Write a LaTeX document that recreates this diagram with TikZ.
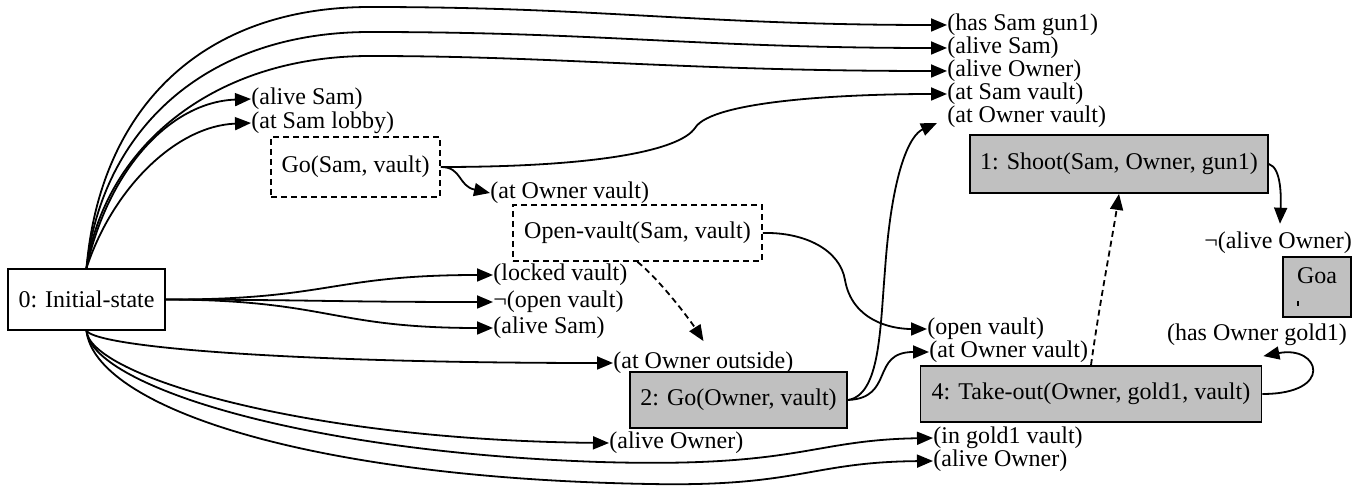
\documentclass[tikz,border=0pt]{standalone}
\usepackage{fontspec}
\setmainfont{Liberation Serif}
\usetikzlibrary{arrows.meta,calc}
\definecolor{planfill}{RGB}{192,192,192}
\begin{document}
\begin{tikzpicture}[x=0.5pt,y=-0.5pt,
  every node/.style={font=\fontsize{12}{14}\selectfont},
  act/.style={draw,line width=0.9pt,inner sep=0pt},
  plan/.style={act,fill=planfill},
  cand/.style={act,dash pattern=on 3pt off 2pt},
  fact/.style={inner sep=0pt,anchor=west},
  link/.style={line width=0.9pt,-{Triangle[length=8pt,width=6.5pt]}},
  order/.style={link,dash pattern=on 3pt off 2pt}]
\useasboundingbox (0,0) rectangle (1367,486);

% steps
\node[act,minimum width=78.5pt,minimum height=30.5pt] (init) at (86.5,299.5) {0: Initial-state};
\node[cand,minimum width=84.5pt,minimum height=30pt] (gosam) at (355.5,167) {Go(Sam, vault)};
\node[cand,minimum width=124.5pt,minimum height=28pt] (openv) at (637.5,233) {Open-vault(Sam, vault)};
\node[plan,minimum width=108.5pt,minimum height=28pt] (goown) at (738.5,400) {2: Go(Owner, vault)};
\node[plan,minimum width=149pt,minimum height=29pt] (shoot) at (1119,164) {1: Shoot(Sam, Owner, gun1)};
\node[plan,minimum width=170.5pt,minimum height=28pt] (takeout) at (1091,394) {4: Take-out(Owner, gold1, vault)};
\node[plan,minimum width=34pt,minimum height=30pt,align=left] (goal) at (1317,287) {Goa\\[-3pt]\rule{0.8pt}{2.5pt}};

% conditions
\node[fact] (fHasGun) at (947,25) {(has Sam gun1)};
\node[fact] (fAliveSamT) at (947,48) {(alive Sam)};
\node[fact] (fAliveOwnT) at (947,71) {(alive Owner)};
\node[fact] (fSamVault) at (947,94) {(at Sam vault)};
\node[fact] (fOwnVaultT) at (947,117) {(at Owner vault)};
\node[fact] (fAliveSamL) at (251,99) {(alive Sam)};
\node[fact] (fLobby) at (251,123) {(at Sam lobby)};
\node[fact] (fOwnVaultM) at (490,193) {(at Owner vault)};
\node[fact] (fLocked) at (493,275) {(locked vault)};
\node[fact] (fNotOpen) at (493,302) {¬(open vault)};
\node[fact] (fAliveSamM) at (493,328) {(alive Sam)};
\node[fact] (fOutside) at (613,363) {(at Owner outside)};
\node[fact] (fAliveOwnM) at (609,443) {(alive Owner)};
\node[fact] (fOpen) at (927,329) {(open vault)};
\node[fact] (fOwnVaultB) at (929,352) {(at Owner vault)};
\node[fact] (fGold) at (933,438) {(in gold1 vault)};
\node[fact] (fAliveOwnB) at (933,461) {(alive Owner)};
\node[fact,anchor=center] (fNotAlive) at (1278,243) {¬(alive Owner)};
\node[fact,anchor=center] (fHasGold) at (1257,335) {(has Owner gold1)};

% links out of the initial state
\draw[link] (init.north) .. controls (100,110) and (200,7) .. (370,7) .. controls (600,7) and (700,25) .. (fHasGun.west);
\draw[link] (init.north) .. controls (102,130) and (205,32) .. (370,32) .. controls (600,32) and (700,48) .. (fAliveSamT.west);
\draw[link] (init.north) .. controls (104,150) and (210,56) .. (370,56) .. controls (560,56) and (680,71) .. (fAliveOwnT.west);
\draw[link] (init.north) .. controls (108,170) and (170,102) .. (fAliveSamL.west);
\draw[link] (init.north) .. controls (112,190) and (175,126) .. (fLobby.west);
\draw[link] (init.east) .. controls (330,300) and (330,275) .. (fLocked.west);
\draw[link] (init.east) .. controls (330,300) and (330,302) .. (fNotOpen.west);
\draw[link] (init.east) .. controls (330,300) and (330,328) .. (fAliveSamM.west);
\draw[link] (init.south) .. controls (100,348) and (300,363) .. (fOutside.west);
\draw[link] (init.south) .. controls (90,375) and (300,440) .. (fAliveOwnM.west);
\draw[link] (init.south) .. controls (92,385) and (300,452) .. (600,462) .. controls (800,468) and (810,440) .. (fGold.west);
\draw[link] (init.south) .. controls (95,405) and (300,478) .. (650,484) .. controls (800,487) and (810,462) .. (fAliveOwnB.west);

% links out of the other steps
\draw[link] (gosam.east) .. controls (600,167) and (680,150) .. (695,128) .. controls (712,100) and (850,94) .. (fSamVault.west);
\draw[link] (gosam.east) .. controls (462,167) and (458,186) .. (fOwnVaultM.west);
\draw[link] (openv.east) .. controls (805,232) and (840,250) .. (845,280) .. controls (852,320) and (890,329) .. (fOpen.west);
\draw[link] (goown.east) .. controls (880,395) and (880,330) .. (885,270) .. controls (892,170) and (910,135) .. ($(fOwnVaultT.west)+(-10,6)$);
\draw[link] (goown.east) .. controls (895,398) and (870,352) .. (fOwnVaultB.west);
\draw[link] (shoot.east) .. controls (1282,168) and (1281,200) .. ($(fNotAlive.north)+(2,-8)$);
\draw[link] (takeout.east) .. controls (1335,394) and (1320,345) .. ($(takeout.north east)+(1,-9)$);

% orderings
\draw[order] (openv.south) .. controls (660,280) and (690,320) .. ($(goown.north)+(-35,-30)$);
\draw[order] (takeout.north) .. controls (1100,300) and (1112,240) .. (shoot.south);
\end{tikzpicture}
\end{document}
